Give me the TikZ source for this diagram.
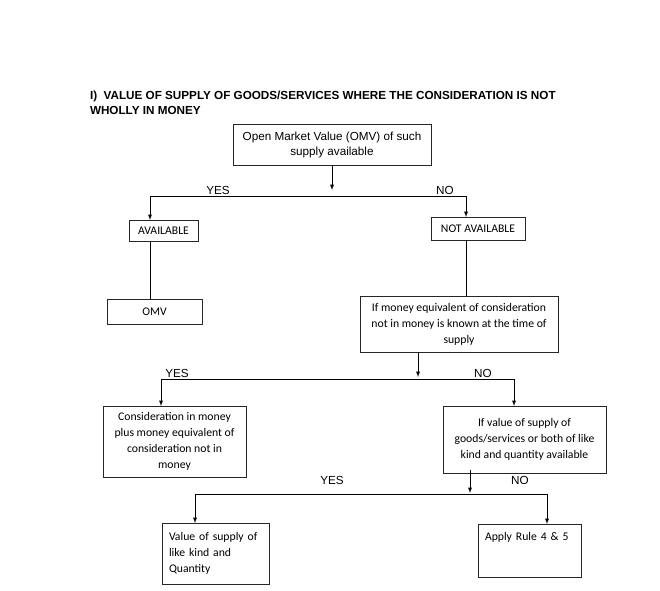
\documentclass[tikz,border=0pt]{standalone}
\usepackage{fontspec}
\setmainfont{Liberation Sans}
\newfontfamily\calibri{Carlito}
\usetikzlibrary{arrows,positioning}
\begin{document}
\begin{tikzpicture}[x=1pt,y=-1pt,every node/.style={outer sep=0pt}]
\tikzstyle{box}=[draw=black!85,line width=0.9pt,inner sep=2pt,align=center,font=\fontsize{11.7}{15}\selectfont]
\tikzstyle{cbox}=[box,font=\calibri\fontsize{11.7}{16}\selectfont]
\tikzstyle{arr}=[-latex,line width=0.9pt]
\tikzstyle{lbl}=[inner sep=0pt,font=\fontsize{11.7}{14}\selectfont]

\useasboundingbox (0,0) rectangle (660,590);

\node (title) [anchor=north west,align=left,inner sep=0pt,font=\bfseries\fontsize{11.7}{15.5}\selectfont] at (90,91)
  {I)\ \ VALUE OF SUPPLY OF GOODS/SERVICES WHERE THE CONSIDERATION IS NOT\\WHOLLY IN MONEY};

% boxes
\node (omvq) [box,minimum width=198,minimum height=41] at (332,144.5) {Open Market Value (OMV) of such\\supply available};
\node (avail) [cbox,minimum width=69,minimum height=21] at (163.5,230.5) {AVAILABLE};
\node (notavail) [cbox,minimum width=94,minimum height=23] at (478,228.5) {NOT AVAILABLE};
\node (omv) [cbox,minimum width=95,minimum height=25] at (154.5,311.5) {OMV};
\node (moneyq) [cbox,minimum width=198,minimum height=56] at (459,324) {If money equivalent of consideration\\not in money is known at the time of\\supply};
\node (considm) [cbox,minimum width=143,minimum height=71] at (174.5,441.5) {Consideration in money\\plus money equivalent of\\consideration not in\\money};
\node (likeq) [cbox,minimum width=163,minimum height=67] at (524.5,439.5) {If value of supply of\\goods/services or both of like\\kind and quantity available};
\node (likeval) [cbox,align=left,inner xsep=7pt,text width=93,minimum height=61] at (215.5,553.5) {Value of supply of\\like kind and\\Quantity};
\node (rule) [cbox,align=left,inner xsep=7pt,inner ysep=4pt,text width=89,text height=12pt,text depth=33pt] at (529.5,550.5) {Apply Rule 4 \& 5};

% first split
\coordinate (s1) at (332,190);
\coordinate (y1) at (150,196);
\coordinate (n1) at (466,196);
\draw [arr] (omvq.south) -- (s1);
\draw [arr] (y1) -- (n1) -- (n1 |- notavail.north);
\draw [arr] (y1) -- (y1 |- avail.north);
\node (yes1) [lbl] at (218,190) {YES};
\node (no1) [lbl] at (445,190) {NO};
\draw [line width=0.9pt] (y1 |- avail.south) -- (y1 |- omv.north);
\draw [line width=0.9pt] (n1 |- notavail.south) -- (n1 |- moneyq.north);

% second split
\coordinate (s2) at (418,377);
\coordinate (y2) at (161,379);
\coordinate (n2) at (514,379);
\draw [arr] (s2 |- moneyq.south) -- (s2);
\draw [arr] (y2) -- (n2) -- (n2 |- likeq.north);
\draw [arr] (y2) -- (y2 |- considm.north);
\node (yes2) [lbl] at (177,373) {YES};
\node (no2) [lbl] at (483,373) {NO};

% third split
\coordinate (s3) at (470,493);
\coordinate (y3) at (195,494);
\coordinate (n3) at (547,494);
\draw [arr] ([yshift=3pt]s3 |- likeq.south) -- (s3);
\draw [arr] (y3) -- (n3) -- (n3 |- rule.north);
\draw [arr] (y3) -- (y3 |- likeval.north);
\node (yes3) [lbl] at (332,480) {YES};
\node (no3) [lbl] at (520,480) {NO};
\end{tikzpicture}
\end{document}
